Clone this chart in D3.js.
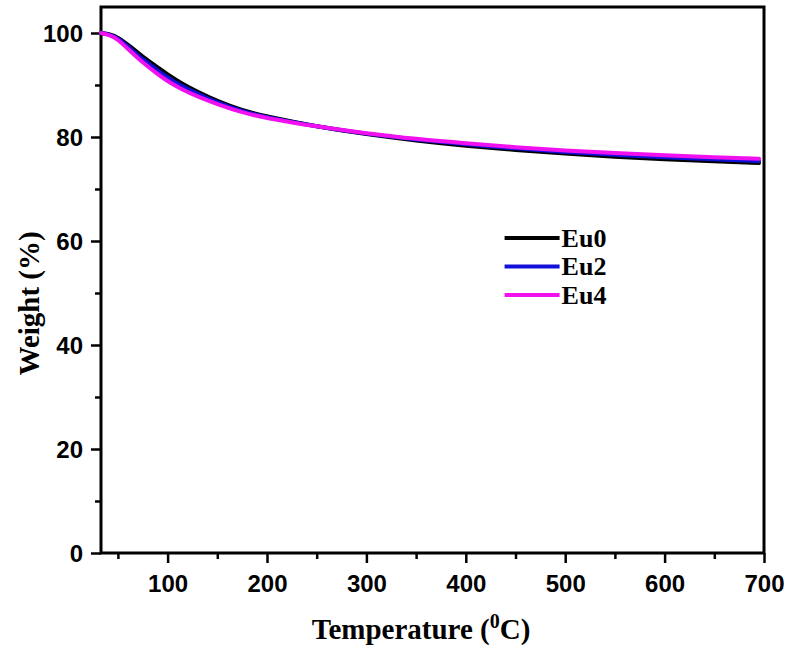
<!DOCTYPE html>
<html>
<head>
<meta charset="utf-8">
<script src="https://cdn.jsdelivr.net/npm/d3@7"></script>
<style>
  body { margin: 0; background: #fff; }
  .tick text { font-family: "Liberation Sans", Arial, sans-serif; font-weight: bold; font-size: 24px; }
</style>
</head>
<body>
<div class="chart"></div>
<script>
// Data
const temps = [33, 42, 50, 62, 75, 90, 100, 115, 130, 150, 175, 200, 250, 300, 350, 400, 450, 500, 550, 600, 650, 695];
const eu0 = [100, 99.8, 99.2, 97.5, 95.4, 93.4, 92.0, 90.2, 88.7, 86.9, 85.1, 83.9, 82.0, 80.5, 79.3, 78.3, 77.5, 76.8, 76.2, 75.7, 75.3, 75.0];
const eu2 = [100, 99.7, 99.0, 97.1, 94.9, 92.8, 91.4, 89.7, 88.3, 86.6, 84.9, 83.8, 82.0, 80.6, 79.5, 78.6, 77.8, 77.1, 76.6, 76.1, 75.7, 75.4];
const eu4 = [100, 99.6, 98.8, 96.6, 94.3, 92.1, 90.7, 89.1, 87.8, 86.3, 84.7, 83.6, 82.0, 80.7, 79.6, 78.8, 78.0, 77.4, 76.9, 76.5, 76.1, 75.8];
const seriesNames = ["Eu0", "Eu2", "Eu4"];
const seriesColors = ["#000000", "#1010d8", "#f010f0"];
const xTicks = [100, 200, 300, 400, 500, 600, 700];
const yTicks = [0, 20, 40, 60, 80, 100];

const margin = { top: 7, right: 28, bottom: 99, left: 101 },
    width = 792 - margin.left - margin.right,
    height = 652 - margin.top - margin.bottom;

const x = d3.scaleLinear().domain([33, 700]).range([0, width]);
const y = d3.scaleLinear().domain([0, 105]).range([height, 0]);

const svg = d3.select(".chart").append("svg")
    .attr("width", 792)
    .attr("height", 652)
    .append("g")
    .attr("transform", "translate(" + margin.left + "," + margin.top + ")");

// minor ticks
svg.append("g")
    .attr("transform", "translate(0," + height + ")")
    .call(d3.axisBottom(x).tickValues(d3.range(50, 700, 100)).tickSize(6).tickFormat(""))
    .call(g => g.select(".domain").remove())
    .selectAll("line").attr("stroke-width", 2.5);
svg.append("g")
    .call(d3.axisLeft(y).tickValues(d3.range(10, 100, 20)).tickSize(6).tickFormat(""))
    .call(g => g.select(".domain").remove())
    .selectAll("line").attr("stroke-width", 2.5);

// major ticks
const xAxis = svg.append("g")
    .attr("transform", "translate(0," + height + ")")
    .call(d3.axisBottom(x).tickValues(xTicks).tickSize(10).tickPadding(12));
xAxis.select(".domain").remove();
xAxis.selectAll("line").attr("stroke-width", 2.5);

const yAxis = svg.append("g")
    .call(d3.axisLeft(y).tickValues(yTicks).tickSize(10).tickPadding(8));
yAxis.select(".domain").remove();
yAxis.selectAll("line").attr("stroke-width", 2.5);
yAxis.selectAll("text").attr("dy", "0.36em");

// frame
svg.append("rect")
    .attr("width", width)
    .attr("height", height)
    .attr("fill", "none")
    .attr("stroke", "#000")
    .attr("stroke-width", 3);

// curves
const allSeries = [eu0, eu2, eu4];
const line = d3.line()
    .x((d, i) => x(temps[i]))
    .y(d => y(d))
    .curve(d3.curveBasis);

allSeries.forEach((s, k) => {
    svg.append("path")
        .datum(s)
        .attr("fill", "none")
        .attr("stroke", seriesColors[k])
        .attr("stroke-width", 4)
        .attr("stroke-linecap", "round")
        .attr("d", line);
});

// legend
const legend = svg.selectAll(".legend")
    .data(seriesNames)
    .enter().append("g")
    .attr("class", "legend")
    .attr("transform", (d, i) => "translate(" + x(437) + "," + (y(60.6) + i * 28.5) + ")");

legend.append("line")
    .attr("x1", 2).attr("x2", 57)
    .attr("stroke", (d, i) => seriesColors[i])
    .attr("stroke-width", 4);

legend.append("text")
    .attr("x", 59)
    .attr("dy", "0.35em")
    .style("font-family", "'Liberation Serif', 'Times New Roman', serif")
    .style("font-weight", "bold")
    .style("font-size", "26px")
    .text(d => d);

// axis titles
const xt = svg.append("text")
    .attr("x", x(355))
    .attr("y", height + 86)
    .attr("text-anchor", "middle")
    .style("font-family", "'Liberation Serif', 'Times New Roman', serif")
    .style("font-weight", "bold")
    .style("font-size", "29px");
xt.append("tspan").text("Temperature (");
xt.append("tspan").attr("dy", -11).style("font-size", "20px").text("0");
xt.append("tspan").attr("dy", 11).text("C)");

svg.append("text")
    .attr("transform", "translate(" + (-62) + "," + y(48) + ") rotate(-90)")
    .attr("text-anchor", "middle")
    .style("font-family", "'Liberation Serif', 'Times New Roman', serif")
    .style("font-weight", "bold")
    .style("font-size", "29px")
    .text("Weight (%)");
</script>
</body>
</html>
